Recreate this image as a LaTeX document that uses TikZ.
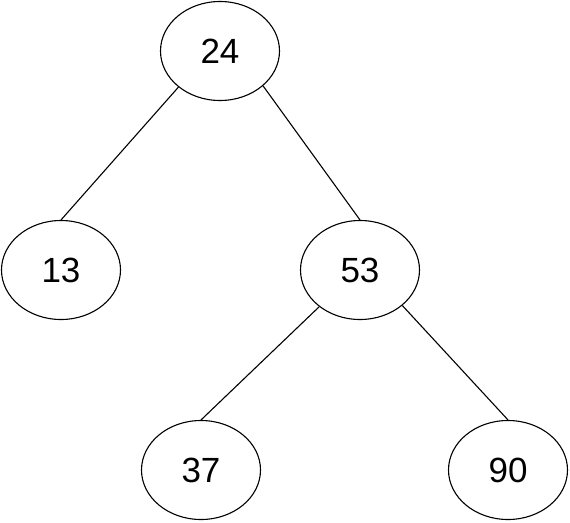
\documentclass[tikz,border=0pt]{standalone}
\usepackage{fontspec}
\setmainfont{Liberation Sans}
\usetikzlibrary{shapes.geometric}

\begin{document}
\begin{tikzpicture}[x=1pt,y=-1pt,
  treenode/.style={ellipse,draw,line width=1.1pt,minimum width=119pt,minimum height=99pt,inner sep=0pt,font=\fontsize{35}{40}\selectfont},
  treeedge/.style={line width=1.1pt}]
\useasboundingbox (0,0) rectangle (570,522);

\node (n24) at (220, 51) [treenode] {24};
\node (n13) at (61, 270) [treenode] {13};
\node (n53) at (360, 270) [treenode] {53};
\node (n37) at (201, 470) [treenode] {37};
\node (n90) at (508, 470) [treenode] {90};

\draw[treeedge] (n24.221) -- (n13.north);
\draw[treeedge] (n24.-39) -- (n53.north);
\draw[treeedge] (n53.222) -- (n37.north);
\draw[treeedge] (n53.-40) -- (n90.north);

\end{tikzpicture}
\end{document}
